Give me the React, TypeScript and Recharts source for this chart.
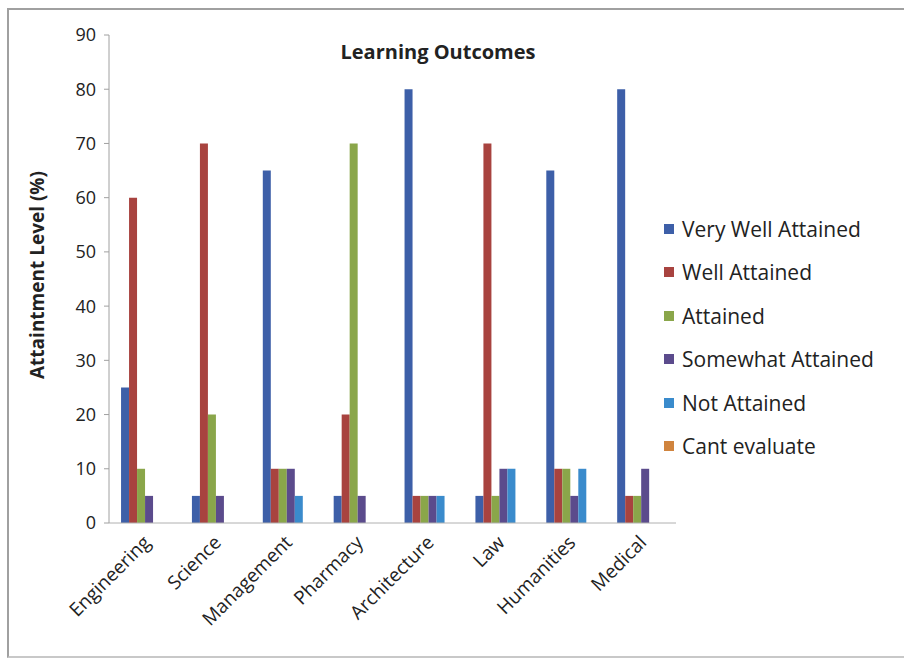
import { BarChart, Bar, XAxis, YAxis, Legend } from "recharts";

const categories = [
  "Engineering",
  "Science",
  "Management",
  "Pharmacy",
  "Architecture",
  "Law",
  "Humanities",
  "Medical"
];

const veryWellAttained = [25, 5, 65, 5, 80, 5, 65, 80];
const wellAttained = [60, 70, 10, 20, 5, 70, 10, 5];
const attained = [10, 20, 10, 70, 5, 5, 10, 5];
const somewhatAttained = [5, 5, 10, 5, 5, 10, 5, 10];
const notAttained = [0, 0, 5, 0, 5, 10, 10, 0];
const cantEvaluate = [0, 0, 0, 0, 0, 0, 0, 0];

const yTicks = [0, 10, 20, 30, 40, 50, 60, 70, 80, 90];

const series = [
  { key: "vwa", name: "Very Well Attained", color: "#3d5fa8" },
  { key: "wa", name: "Well Attained", color: "#a8433f" },
  { key: "a", name: "Attained", color: "#8aa64a" },
  { key: "swa", name: "Somewhat Attained", color: "#5b4b8c" },
  { key: "na", name: "Not Attained", color: "#3a8bcc" },
  { key: "ce", name: "Cant evaluate", color: "#d0843e" }
];

const data = categories.map((name, i) => ({
  name,
  vwa: veryWellAttained[i],
  wa: wellAttained[i],
  a: attained[i],
  swa: somewhatAttained[i],
  na: notAttained[i],
  ce: cantEvaluate[i]
}));

const FONT = "'Open Sans', sans-serif";

function CategoryTick(props: any) {
  const { x, y, payload } = props;
  return (
    <text
      x={x}
      y={y}
      transform={`rotate(-45 ${x} ${y})`}
      textAnchor="end"
      dy={14}
      dx={-4}
      fontFamily={FONT}
      fontSize={19}
      fill="#222"
    >
      {payload.value}
    </text>
  );
}

function LegendBox() {
  return (
    <div style={{ fontFamily: FONT, fontSize: 21, color: "#222" }}>
      {series.map((s) => (
        <div
          key={s.key}
          style={{ display: "flex", alignItems: "center", height: 43.5, whiteSpace: "nowrap" }}
        >
          <span
            style={{
              display: "inline-block",
              width: 10,
              height: 10,
              background: s.color,
              marginRight: 8
            }}
          />
          {s.name}
        </div>
      ))}
    </div>
  );
}

export default function App() {
  return (
    <div
      style={{
        position: "fixed",
        left: 0,
        top: 0,
        width: 904,
        height: 662,
        background: "#fff"
      }}
    >
      <div
        style={{
          position: "absolute",
          left: 7,
          top: 8,
          width: 897,
          height: 646,
          borderLeft: "2px solid #a0a0a0",
          borderTop: "2px solid #a0a0a0",
          borderBottom: "2px solid #c8c8c8"
        }}
      />
      <BarChart
        width={904}
        height={662}
        data={data}
        margin={{ top: 35, right: 228, bottom: 39, left: 10 }}
        barGap={0}
        barCategoryGap="17%"
      >
        <XAxis
          dataKey="name"
          height={100}
          tickLine={false}
          axisLine={{ stroke: "#b0b0b0" }}
          interval={0}
          tick={<CategoryTick />}
        />
        <YAxis
          width={99}
          domain={[0, 90]}
          ticks={yTicks}
          interval={0}
          axisLine={{ stroke: "#a0a0a0" }}
          tickLine={{ stroke: "#a0a0a0" }}
          tickSize={5}
          tickMargin={8}
          tick={{ fontFamily: FONT, fontSize: 18, fill: "#222" }}
          label={{
            value: "Attaintment Level (%)",
            angle: -90,
            position: "insideLeft",
            dx: 22,
            dy: 100,
            style: {
              fontFamily: FONT,
              fontSize: 19,
              fontWeight: 700,
              fill: "#222",
              textAnchor: "start"
            }
          }}
        />
        <Legend
          layout="vertical"
          align="center"
          verticalAlign="middle"
          content={() => <LegendBox />}
          wrapperStyle={{ left: 664, top: 207, width: 240, height: 262 }}
        />
        {series.map((s) => (
          <Bar
            key={s.key}
            dataKey={s.key}
            name={s.name}
            fill={s.color}
            isAnimationActive={false}
          />
        ))}
      </BarChart>
      <div
        style={{
          position: "absolute",
          left: 238,
          top: 38,
          width: 400,
          textAlign: "center",
          fontFamily: FONT,
          fontSize: 20,
          fontWeight: 700,
          color: "#222"
        }}
      >
        Learning Outcomes
      </div>
    </div>
  );
}
